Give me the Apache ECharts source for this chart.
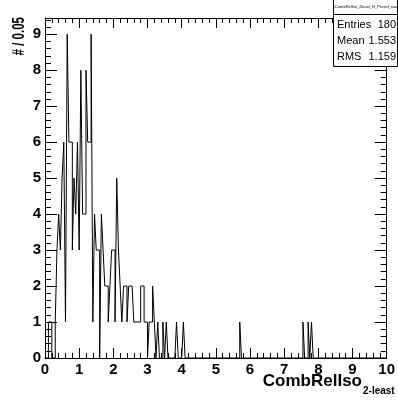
<!DOCTYPE html>
<html>
<head>
<meta charset="utf-8">
<script src="https://cdn.jsdelivr.net/npm/echarts@6/dist/echarts.min.js"></script>
<style>
html,body{margin:0;padding:0;background:#fff;}
#c{width:398px;height:401px;}
</style>
</head>
<body>
<div id="c"></div>
<script>
// Histogram settings
var binWidth = 0.05;
var xMin = 0, xMax = 10;
// Bin contents, index i covers [i*0.05, (i+1)*0.05)
var counts = [
  0,0,1,1,0,0,1,3,4,3,   // 0.00-0.45
  5,6,1,9,6,6,3,5,4,6,   // 0.50-0.95
  3,8,4,4,8,6,6,9,1,4,   // 1.00-1.45
  3,3,0,4,3,2,2,1,2,3,   // 1.50-1.95
  3,1,5,3,2,1,2,2,1,2,   // 2.00-2.45
  2,2,1,1,1,1,2,2,1,1,   // 2.50-2.95
  0,1,1,2,1,0,1,0,0,1,   // 3.00-3.45
  0,1,0,0,0,0,0,1,0,0,   // 3.50-3.95
  0,1,0,0,0,0,0,0,0,0,   // 4.00-4.45
  0,0,0,0,0,0,0,0,0,0,   // 4.50-4.95
  0,0,0,0,0,0,0,0,0,0,   // 5.00-5.45
  0,0,0,0,1,0,0,0,0,0,   // 5.50-5.95
  0,0,0,0,0,0,0,0,0,0,   // 6.00-6.45
  0,0,0,0,0,0,0,0,0,0,   // 6.50-6.95
  0,0,0,0,0,0,0,0,0,0,   // 7.00-7.45
  0,1,0,0,1,0,1,0,0,0,   // 7.50-7.95
  0,0,0,0,0,0,0,0,0,0,   // 8.00-8.45
  0,0,0,0,0,0,0,0,0,0,   // 8.50-8.95
  0,0,0,0,0,0,0,0,0,0,   // 9.00-9.45
  0,0,0,0,0,0,0,0,0,0    // 9.50-9.95
];
var xTicks = [0,1,2,3,4,5,6,7,8,9,10];
var yTicks = [0,1,2,3,4,5,6,7,8,9];
var statLabels = ['Entries','Mean','RMS'];
var statValues = ['180','1.553','1.159'];
var histName = 'hCombRelIso_2least_H_Presel_raw';
var xTitle = 'CombRelIso';
var xTitleSub = '2-least';
var yTitle = '# / 0.05';

// histogram outline: each bin contributes its low-edge and high-edge at its content
var outline = [[xMin, 0]];
for (var i = 0; i < counts.length; i++) {
  outline.push([xMin + i * binWidth, counts[i]]);
  outline.push([xMin + (i + 1) * binWidth, counts[i]]);
}
outline.push([xMax, 0]);

var yMax = 9.45;
var font = 'Liberation Sans, Arial, Helvetica, sans-serif';
var labFmt = function (v) { return (Math.abs(v - Math.round(v)) < 1e-6) ? String(Math.round(v)) : ''; };

var chart = echarts.init(document.getElementById('c'), null, {renderer: 'canvas'});
var axCommon = {
  type: 'value',
  axisLine: {show: true, onZero: false, lineStyle: {color: '#000', width: 1}},
  splitLine: {show: false},
  minorSplitLine: {show: false}
};
chart.setOption({
  animation: false,
  backgroundColor: '#fff',
  grid: {left: 45, right: 6, top: 18, bottom: 43, containLabel: false},
  xAxis: [
    Object.assign({}, axCommon, {
      min: xMin, max: xMax, interval: 1, position: 'bottom',
      axisTick: {show: true, inside: true, length: 10, lineStyle: {color: '#000'}},
      minorTick: {show: true, splitNumber: 5, length: 5, lineStyle: {color: '#000'}},
      axisLabel: {show: true, margin: 4, color: '#000', fontFamily: font, fontWeight: 'bold', fontSize: 15, formatter: labFmt}
    }),
    Object.assign({}, axCommon, {
      min: xMin, max: xMax, interval: 1, position: 'top',
      axisTick: {show: true, inside: true, length: 10, lineStyle: {color: '#000'}},
      minorTick: {show: true, splitNumber: 5, length: 5, lineStyle: {color: '#000'}},
      axisLabel: {show: false}
    })
  ],
  yAxis: [
    Object.assign({}, axCommon, {
      min: 0, max: yMax, interval: 1, position: 'left',
      axisTick: {show: true, inside: true, length: 12, lineStyle: {color: '#000'}},
      minorTick: {show: true, splitNumber: 5, length: 6, lineStyle: {color: '#000'}},
      axisLabel: {show: true, margin: 4, color: '#000', fontFamily: font, fontWeight: 'bold', fontSize: 15, formatter: labFmt}
    }),
    Object.assign({}, axCommon, {
      min: 0, max: yMax, interval: 1, position: 'right',
      axisTick: {show: true, inside: true, length: 12, lineStyle: {color: '#000'}},
      minorTick: {show: true, splitNumber: 5, length: 6, lineStyle: {color: '#000'}},
      axisLabel: {show: false}
    })
  ],
  series: [{
    type: 'line',
    data: outline,
    xAxisIndex: 0, yAxisIndex: 0,
    symbol: 'none',
    sampling: null,
    lineStyle: {color: '#000', width: 1},
    clip: true
  }],
  graphic: [
    {type: 'text', x: 20, y: 17, rotation: Math.PI / 2, scaleX: 0.72,
     style: {text: yTitle, align: 'right', verticalAlign: 'middle', font: 'bold 16px ' + font, fill: '#000'}},
    {type: 'text', x: 362, y: 381,
     style: {text: xTitle, align: 'right', verticalAlign: 'middle', font: 'bold 17px ' + font, fill: '#000'}},
    {type: 'text', x: 363, y: 391,
     style: {text: xTitleSub, align: 'left', verticalAlign: 'middle', font: 'bold 10px ' + font, fill: '#000'}},
    {type: 'rect', shape: {x: 333.5, y: -0.5, width: 64, height: 67}, z: 100,
     style: {fill: '#fff', stroke: '#000', lineWidth: 1}},
    {type: 'line', shape: {x1: 333.5, y1: 14.5, x2: 397.5, y2: 14.5}, z: 101,
     style: {stroke: '#000', lineWidth: 1}},
    {type: 'text', x: 365, y: 7, z: 101,
     style: {text: histName, align: 'center', verticalAlign: 'middle', font: '4px ' + font, fill: '#000'}},
    {type: 'text', x: 337, y: 25, z: 101,
     style: {text: statLabels[0], align: 'left', verticalAlign: 'middle', font: '11px ' + font, fill: '#000'}},
    {type: 'text', x: 396, y: 25, z: 101,
     style: {text: statValues[0], align: 'right', verticalAlign: 'middle', font: '11px ' + font, fill: '#000'}},
    {type: 'text', x: 337, y: 41, z: 101,
     style: {text: statLabels[1], align: 'left', verticalAlign: 'middle', font: '11px ' + font, fill: '#000'}},
    {type: 'text', x: 396, y: 41, z: 101,
     style: {text: statValues[1], align: 'right', verticalAlign: 'middle', font: '11px ' + font, fill: '#000'}},
    {type: 'text', x: 337, y: 57, z: 101,
     style: {text: statLabels[2], align: 'left', verticalAlign: 'middle', font: '11px ' + font, fill: '#000'}},
    {type: 'text', x: 396, y: 57, z: 101,
     style: {text: statValues[2], align: 'right', verticalAlign: 'middle', font: '11px ' + font, fill: '#000'}}
  ]
});
</script>
</body>
</html>
